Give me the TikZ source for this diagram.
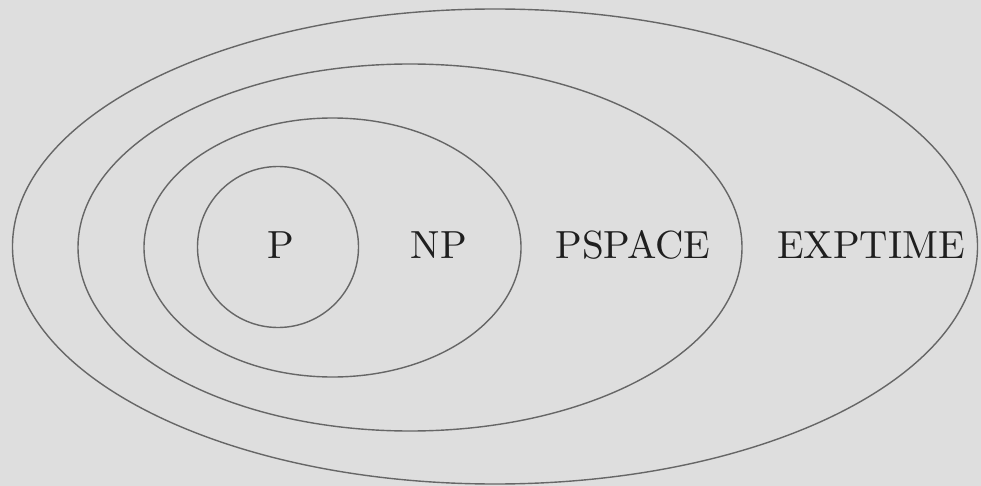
\documentclass[tikz,border=0pt]{standalone}
\begin{document}
\begin{tikzpicture}[x=1pt,y=-1pt,
  setline/.style={draw=black!60, line width=1.4pt},
  lbl/.style={font=\normalsize, scale=3.92, text=black!88, inner sep=0pt, anchor=base}]
\fill[fill={rgb,255:red,222;green,222;blue,222}] (0,0) rectangle (981,486);
\useasboundingbox (0,0) rectangle (981,486);
\draw[setline] (495,246.5) ellipse [x radius=482.5, y radius=237.5];
\draw[setline] (410,247.5) ellipse [x radius=332, y radius=183.5];
\draw[setline] (332.5,247.5) ellipse [x radius=188.5, y radius=129.5];
\draw[setline] (278,247) circle [radius=80.5];
\node[lbl] (p) at (280.5,258) {P};
\node[lbl] (np) at (439,258) {NP};
\node[lbl] (pspace) at (633,258) {PSPACE};
\node[lbl] (exptime) at (871,258) {EXPTIME};
\end{tikzpicture}
\end{document}
